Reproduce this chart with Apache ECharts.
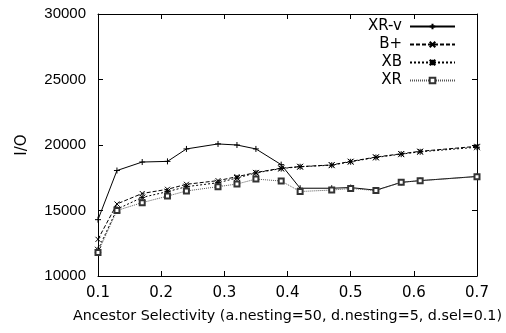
<!DOCTYPE html>
<html>
<head>
<meta charset="utf-8">
<script src="https://cdn.jsdelivr.net/npm/echarts@6/dist/echarts.min.js"></script>
<style>html,body{margin:0;padding:0;background:#fff}#c{width:506px;height:333px}</style>
</head>
<body>
<div id="c"></div>
<script>
var xValues = [0.1,0.13,0.17,0.21,0.24,0.29,0.32,0.35,0.39,0.42,0.47,0.5,0.54,0.58,0.61,0.7];
var xrv = [14300,18050,18700,18750,19700,20080,20000,19700,18500,16700,16700,16750,16550,17150,17280,17600];
var bplus = [12800,15500,16300,16620,17000,17280,17580,17900,18230,18350,18480,18750,19080,19330,19520,19900];
var xb = [12000,15100,16000,16440,16820,17120,17480,17870,18200,18340,18460,18720,19050,19300,19480,19830];
var xr = [11800,15000,15600,16100,16490,16820,17020,17400,17250,16450,16560,16680,16520,17150,17280,17580];
var seriesNames = ['XR-v','B+','XB','XR'];
var yTicks = {min:10000, max:30000, step:5000};
var xTicks = {min:0.1, max:0.7, step:0.1};

function pairs(ys){ return xValues.map(function(x,i){return [x, ys[i]];}); }

var FONT = 'DejaVu Sans';
var FONT2 = 'Liberation Sans';
var plusPath = 'path://M0,5L10,5M5,0L5,10';
var crossPath = 'path://M0,0L10,10M10,0L0,10';
var starPath = 'path://M0,5L10,5M5,0L5,10M0,0L10,10M10,0L0,10';

function mk(name, data, symbol, size, dash, color){
  return {
    name: name, type:'line', data: pairs(data), symbol: symbol, symbolSize: size,
    showSymbol:true, animation:false,
    lineStyle:{color:color, width:1, type:dash},
    itemStyle:{color: symbol==='emptyRect' ? '#333' : '#000', borderColor: symbol==='emptyRect' ? '#333' : '#000', borderWidth:1}
  };
}

var chart = echarts.init(document.getElementById('c'), null, {renderer:'canvas'});
chart.setOption({
  animation:false,
  grid:{left:98, right:29, top:14, bottom:57, containLabel:false, outerBoundsMode:'none'},
  legend:{
    orient:'vertical', right:50, top:19, padding:0, align:'right',
    itemWidth:45, itemHeight:7, itemGap:3,
    textStyle:{color:'#000', fontFamily:FONT, fontSize:15, lineHeight:14, width:42, align:'right', padding:[0,3,0,0]},
    data: seriesNames
  },
  xAxis:[{
    type:'value', min:xTicks.min, max:xTicks.max, interval:xTicks.step,
    name:'Ancestor Selectivity (a.nesting=50, d.nesting=5, d.sel=0.1)',
    nameLocation:'middle', nameGap:33,
    nameTextStyle:{color:'#000', fontFamily:FONT, fontSize:14.3},
    axisLine:{lineStyle:{color:'#000', width:1}},
    axisTick:{inside:true, length:5, lineStyle:{color:'#000'}},
    axisLabel:{margin:10, color:'#000', fontFamily:FONT, fontSize:15, formatter:function(v){return v.toFixed(1);}},
    splitLine:{show:false}
  },{
    type:'value', position:'top', min:xTicks.min, max:xTicks.max, interval:xTicks.step,
    axisLine:{lineStyle:{color:'#000', width:1}},
    axisTick:{inside:true, length:5, lineStyle:{color:'#000'}},
    axisLabel:{show:false}, splitLine:{show:false}
  }],
  yAxis:[{
    type:'value', min:yTicks.min, max:yTicks.max, interval:yTicks.step,
    name:'I/O', nameLocation:'middle', nameGap:68, nameRotate:90,
    nameTextStyle:{color:'#000', fontFamily:FONT, fontSize:15},
    axisLine:{show:true, lineStyle:{color:'#000', width:1}},
    axisTick:{show:true, inside:true, length:5, lineStyle:{color:'#000'}},
    axisLabel:{margin:12, color:'#000', fontFamily:FONT2, fontSize:15, formatter:function(v){return String(v);}},
    splitLine:{show:false}
  },{
    type:'value', position:'right', min:yTicks.min, max:yTicks.max, interval:yTicks.step,
    axisLine:{show:true, lineStyle:{color:'#000', width:1}},
    axisTick:{show:true, inside:true, length:5, lineStyle:{color:'#000'}},
    axisLabel:{show:false}, splitLine:{show:false}
  }],
  series:[
    mk(seriesNames[0], xrv, plusPath, 6, 'solid', '#000'),
    mk(seriesNames[1], bplus, crossPath, 5, [4,2], '#000'),
    mk(seriesNames[2], xb, starPath, 6, [2,2], '#000'),
    mk(seriesNames[3], xr, 'emptyRect', 5, [1,1], '#555')
  ]
});
</script>
</body>
</html>
